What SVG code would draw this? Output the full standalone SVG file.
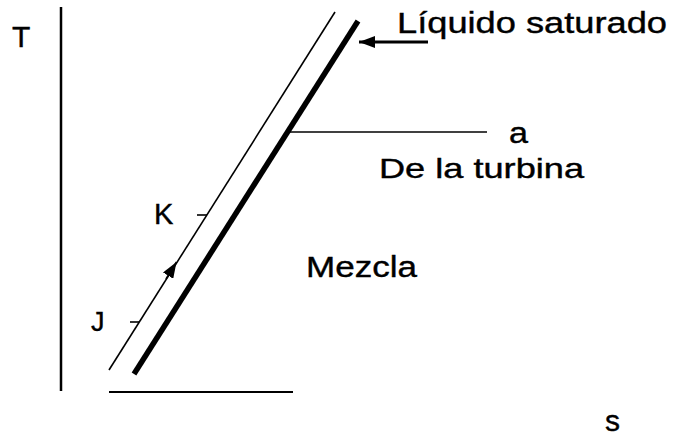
<svg xmlns="http://www.w3.org/2000/svg" width="675" height="437" viewBox="0 0 675 437">
<defs>
<style>
text{font-family:"Liberation Sans",Arial,sans-serif;fill:#000;font-size:30px;stroke:#000;stroke-width:0.4}
.ln{stroke:#000;fill:none}
</style>
<marker id="ah" viewBox="0 0 16 12" refX="16" refY="6" markerWidth="16" markerHeight="12" markerUnits="userSpaceOnUse" orient="auto">
<path d="M0,0 L16,6 L0,12 z" fill="#000"/>
</marker>
</defs>
<rect width="675" height="437" fill="#fff"/>
<g id="axes">
<line class="ln" x1="61" y1="7" x2="61" y2="391" stroke-width="2.5"/>
<line class="ln" x1="109" y1="392" x2="293" y2="392" stroke-width="2"/>
<text x="12" y="47">T</text>
<text x="605" y="431">s</text>
</g>
<g id="curves">
<line class="ln" x1="109" y1="370" x2="335" y2="12" stroke-width="1.6"/>
<line class="ln" x1="134" y1="374" x2="358" y2="21" stroke-width="5.5"/>
</g>
<g id="connectors">
<line class="ln" x1="428" y1="42" x2="359" y2="42" stroke-width="3" marker-end="url(#ah)"/>
<line class="ln" x1="288" y1="132" x2="487" y2="132" stroke-width="1.6"/>
<line class="ln" x1="197" y1="215" x2="207" y2="215" stroke-width="1.6"/>
<line class="ln" x1="130" y1="322" x2="139" y2="322" stroke-width="1.6"/>
<line class="ln" x1="166" y1="279" x2="176.5" y2="262" stroke-width="1.6" marker-end="url(#ah)"/>
</g>
<g id="labels">
<text x="397" y="33" textLength="270" lengthAdjust="spacingAndGlyphs">Líquido saturado</text>
<text x="509" y="143" textLength="19" lengthAdjust="spacingAndGlyphs">a</text>
<text x="379" y="178" textLength="205" lengthAdjust="spacingAndGlyphs" style="font-size:28px">De la turbina</text>
<text x="306" y="277" textLength="111" lengthAdjust="spacingAndGlyphs">Mezcla</text>
<text x="154" y="224" style="font-size:29px">K</text>
<text x="91" y="331" style="font-size:27px">J</text>
</g>
</svg>
